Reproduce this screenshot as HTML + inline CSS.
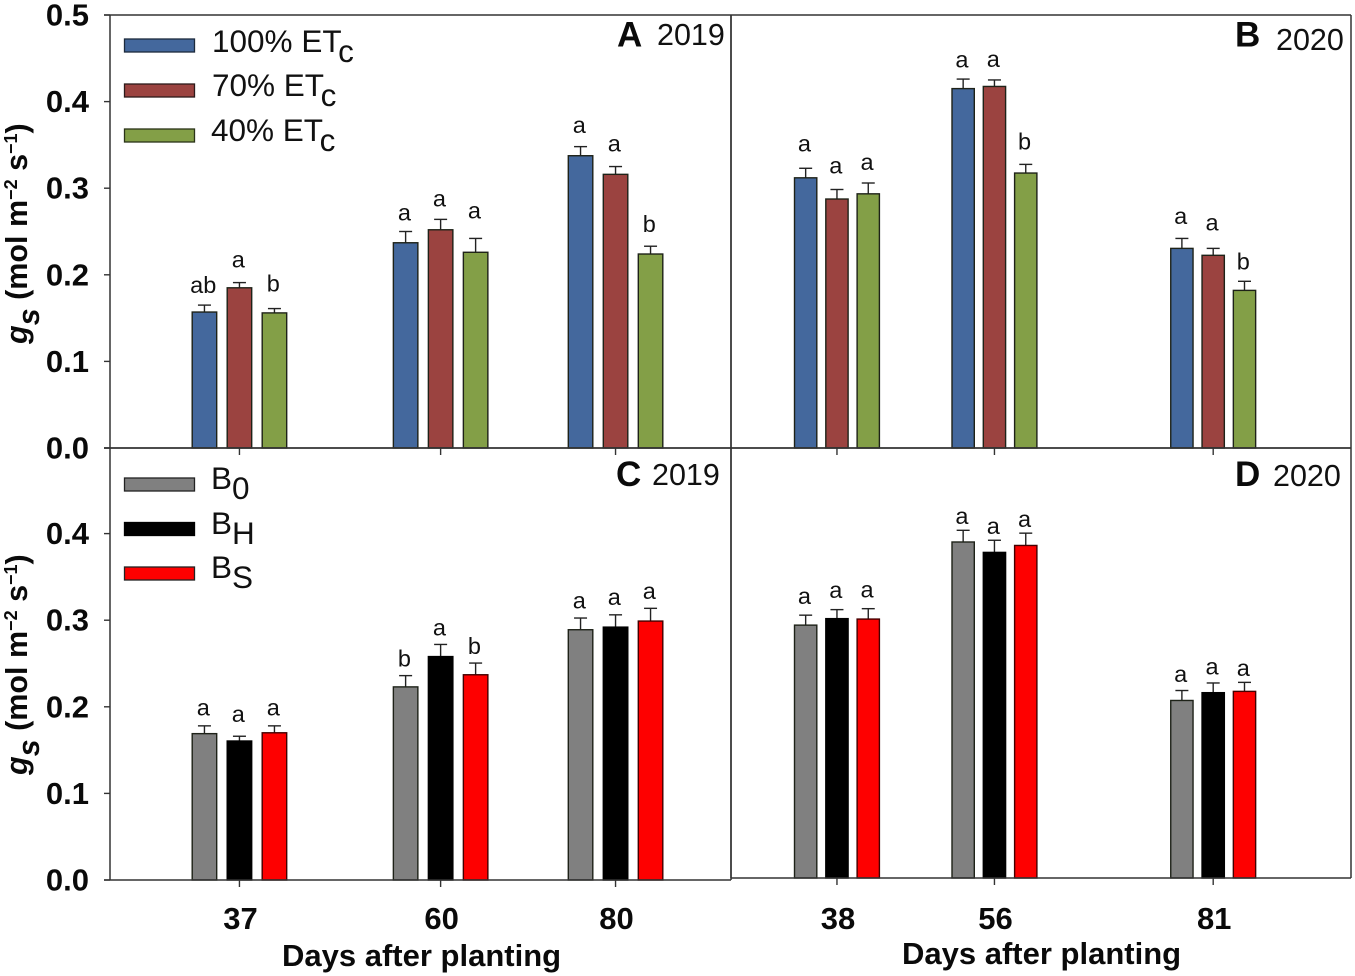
<!DOCTYPE html>
<html lang="en">
<head>
<meta charset="utf-8">
<title>Stomatal conductance bar charts</title>
<style>
  html, body { margin: 0; padding: 0; background: #fff; }
  svg { display: block; font-family: "Liberation Sans", Arial, sans-serif; }
  .tick-label { font-size: 31px; font-weight: bold; fill: #0a0a0a; }
  .axis-title { font-size: 31px; font-weight: bold; fill: #0a0a0a; }
  .y-title { font-size: 30.5px; font-weight: bold; fill: #0a0a0a; }
  .legend-text { font-size: 31.5px; fill: #111; }
  .panel-letter { font-size: 35px; font-weight: bold; fill: #0a0a0a; }
  .panel-year { font-size: 30.5px; fill: #111; }
  .sig-letter { font-size: 23.5px; fill: #111; text-anchor: middle; }
</style>
</head>
<body>
<svg id="chart" xmlns="http://www.w3.org/2000/svg" width="1355" height="976" viewBox="0 0 1355 976">
  <rect x="0" y="0" width="1355" height="976" fill="#fff"/>
  <g id="marks"></g>

  <g>
    <g>
      <rect x="124.5" y="39" width="70" height="13" fill="#44689d" stroke="#1c2a3c" stroke-width="1.3"/>
      <text class="legend-text" x="212" y="52">100% ET<tspan dy="10">c</tspan></text>
    </g>
    <g>
      <rect x="124.5" y="84" width="70" height="13" fill="#9b4340" stroke="#2c1a1a" stroke-width="1.3"/>
      <text class="legend-text" x="212" y="96">70% ET<tspan dy="10">c</tspan></text>
    </g>
    <g>
      <rect x="124.5" y="129" width="70" height="13" fill="#839f47" stroke="#2a3318" stroke-width="1.3"/>
      <text class="legend-text" x="211" y="141">40% ET<tspan dy="10">c</tspan></text>
    </g>
  </g>

  <g>
    <g>
      <rect x="124.5" y="478" width="70" height="13" fill="#808080" stroke="#222" stroke-width="1.3"/>
      <text class="legend-text" x="211" y="489">B<tspan dy="10">0</tspan></text>
    </g>
    <g>
      <rect x="124.5" y="522.5" width="70" height="13" fill="#000" stroke="#000" stroke-width="1.3"/>
      <text class="legend-text" x="211" y="534">B<tspan dy="10">H</tspan></text>
    </g>
    <g>
      <rect x="124.5" y="567" width="70" height="13" fill="#fe0000" stroke="#222" stroke-width="1.3"/>
      <text class="legend-text" x="211" y="578">B<tspan dy="10">S</tspan></text>
    </g>
  </g>

  <text class="panel-letter" x="617" y="46.5">A</text>
  <text class="panel-year" x="657" y="45">2019</text>
  <text class="panel-letter" x="1235" y="46.5">B</text>
  <text class="panel-year" x="1276" y="50">2020</text>
  <text class="panel-letter" x="616" y="486">C</text>
  <text class="panel-year" x="652" y="485">2019</text>
  <text class="panel-letter" x="1235" y="486">D</text>
  <text class="panel-year" x="1273" y="486">2020</text>

  <text class="y-title" transform="translate(27,344) rotate(-90)"><tspan font-style="italic">g</tspan><tspan font-style="italic" dy="12">s</tspan><tspan dy="-12"> (mol m</tspan><tspan dy="-10" font-size="18">−2</tspan><tspan dy="10"> s</tspan><tspan dy="-10" font-size="18">−1</tspan><tspan dy="10">)</tspan></text>
  <text class="y-title" transform="translate(27,775) rotate(-90)"><tspan font-style="italic">g</tspan><tspan font-style="italic" dy="12">s</tspan><tspan dy="-12"> (mol m</tspan><tspan dy="-10" font-size="18">−2</tspan><tspan dy="10"> s</tspan><tspan dy="-10" font-size="18">−1</tspan><tspan dy="10">)</tspan></text>
  <text class="axis-title" x="282" y="966">Days after planting</text>
  <text class="axis-title" x="902" y="964">Days after planting</text>
</svg>

<script>
// ---- Data ----
const irrigationSeries = ['100% ETc', '70% ETc', '40% ETc'];
const biocharSeries = ['B0', 'BH', 'BS'];
const irrigationColors = ['#44689d', '#9b4340', '#839f47'];
const biocharColors = ['#808080', '#000000', '#fe0000'];

const daysA = [37, 60, 80];
const daysB = [38, 56, 81];
const daysC = [37, 60, 80];
const daysD = [38, 56, 81];

const valuesA = [[0.157, 0.237, 0.3375], [0.185, 0.252, 0.316], [0.156, 0.226, 0.224]];
const valuesB = [[0.312, 0.415, 0.2305], [0.2875, 0.4175, 0.2225], [0.2935, 0.3175, 0.182]];
const valuesC = [[0.169, 0.223, 0.289], [0.1605, 0.258, 0.292], [0.170, 0.237, 0.299]];
const valuesD = [[0.292, 0.388, 0.205], [0.2995, 0.376, 0.214], [0.299, 0.384, 0.2155]];

const errorsA = [[0.008, 0.013, 0.0105], [0.006, 0.012, 0.009], [0.005, 0.016, 0.009]];
const errorsB = [[0.011, 0.011, 0.0115], [0.011, 0.0075, 0.008], [0.0125, 0.010, 0.0105]];
const errorsC = [[0.009, 0.013, 0.0135], [0.0055, 0.014, 0.0142], [0.008, 0.0135, 0.0147]];
const errorsD = [[0.0115, 0.0135, 0.0115], [0.0104, 0.014, 0.0112], [0.012, 0.0142, 0.0104]];

const lettersA = [['ab', 'a', 'a'], ['a', 'a', 'a'], ['b', 'a', 'b']];
const lettersB = [['a', 'a', 'a'], ['a', 'a', 'a'], ['a', 'b', 'b']];
const lettersC = [['a', 'b', 'a'], ['a', 'a', 'a'], ['a', 'b', 'a']];
const lettersD = [['a', 'a', 'a'], ['a', 'a', 'a'], ['a', 'a', 'a']];

const yTicksTop = [0.0, 0.1, 0.2, 0.3, 0.4, 0.5];
const yTicksBottom = [0.0, 0.1, 0.2, 0.3, 0.4];

// ---- Layout (not data) ----
const PX_PER_UNIT = 866;
const panels = [
  { id: 'a', left: 110, right: 731, top: 15, base: 448, xMin: 22.2, xMax: 93.2, barW: 24.5, step: 35,
    days: daysA, values: valuesA, errors: errorsA, letters: lettersA, names: irrigationSeries, colors: irrigationColors,
    yTicks: yTicksTop, yAxis: true, dayLabels: false, labelGap: [[12, 11, 13.7], [15, 13, 15], [17, 20, 14]] },
  { id: 'b', left: 731, right: 1351, top: 15, base: 448, xMin: 25.89, xMax: 96.75, barW: 22.3, step: 31.3,
    days: daysB, values: valuesB, errors: errorsB, letters: lettersB, names: irrigationSeries, colors: irrigationColors,
    yTicks: [], yAxis: false, dayLabels: false, labelGap: [[16.6, 11.7, 14.3], [16, 13, 18], [13, 14.7, 12]] },
  { id: 'c', left: 110, right: 731, top: 448, base: 880, xMin: 22.2, xMax: 93.2, barW: 24.5, step: 35,
    days: daysC, values: valuesC, errors: errorsC, letters: lettersC, names: biocharSeries, colors: biocharColors,
    yTicks: yTicksBottom, yAxis: true, dayLabels: true, labelGap: [[10.3, 9.3, 9.3], [14, 8.7, 9.7], [10.3, 9, 9.3]] },
  { id: 'd', left: 731, right: 1351, top: 448, base: 878, xMin: 25.89, xMax: 96.75, barW: 22.3, step: 31.3,
    days: daysD, values: valuesD, errors: errorsD, letters: lettersD, names: biocharSeries, colors: biocharColors,
    yTicks: [], yAxis: false, dayLabels: true, labelGap: [[11.4, 6.3, 8.6], [11.6, 6.4, 8.7], [11.4, 6.3, 6.6]] }
];
const AXIS = '#333';
const SVGNS = 'http://www.w3.org/2000/svg';
const root = document.getElementById('marks');

function mk(tag, attrs, parent) {
  const n = document.createElementNS(SVGNS, tag);
  for (const k in attrs) n.setAttribute(k, attrs[k]);
  parent.appendChild(n);
  return n;
}
function edge(color) {
  return color === '#000000' ? '#000' : (color === '#fe0000' ? '#400' : '#1e2218');
}

panels.forEach(function (p) {
  const xScale = function (d) { return p.left + (d - p.xMin) / (p.xMax - p.xMin) * (p.right - p.left); };
  const yScale = function (v) { return p.base - v * PX_PER_UNIT; };

  const g = mk('g', {}, root);
  
  

  // Bars, error bars, significance letters
  p.names.forEach(function (name, s) {
    p.days.forEach(function (day, i) {
      const cx = xScale(day) + (s - 1) * p.step;
      const v = p.values[s][i];
      const e = p.errors[s][i];
      const yTop = yScale(v);
      const yErr = yScale(v + e);

      const stem = mk('line', { x1: cx, x2: cx, y1: yTop, y2: yErr, stroke: '#222', 'stroke-width': 1.4 }, g);
      
      

      const cap = mk('line', { x1: cx - 6.5, x2: cx + 6.5, y1: yErr, y2: yErr, stroke: '#222', 'stroke-width': 1.4 }, g);
      
      

      const bar = mk('rect', { x: cx - p.barW / 2, y: yTop, width: p.barW, height: p.base - yTop,
        fill: p.colors[s], stroke: edge(p.colors[s]), 'stroke-width': 1.4 }, g);
      
      

      const lab = mk('text', { x: cx - 1.2, y: yErr - p.labelGap[s][i], class: 'sig-letter' }, g);
      lab.textContent = p.letters[s][i];
      
      
    });
  });

  // Frame
  const bottom = mk('line', { x1: p.yAxis ? p.left - 6 : p.left, x2: p.right, y1: p.base, y2: p.base, stroke: AXIS, 'stroke-width': 1.5 }, g);
  
  

  const leftLine = mk('line', { x1: p.left, x2: p.left, y1: p.top, y2: p.base, stroke: AXIS, 'stroke-width': 1.5 }, g);
  
  

  const rightLine = mk('line', { x1: p.right, x2: p.right, y1: p.top, y2: p.base, stroke: AXIS, 'stroke-width': 1.5 }, g);
  
  

  const topLine = mk('line', { x1: p.yAxis ? p.left - 6 : p.left, x2: p.right, y1: p.top, y2: p.top, stroke: AXIS, 'stroke-width': 1.5 }, g);
  
  

  // X ticks
  p.days.forEach(function (day) {
    const tick = mk('line', { x1: xScale(day), x2: xScale(day), y1: p.base, y2: p.base + 7, stroke: AXIS, 'stroke-width': 1.4 }, g);
    
    
    if (p.dayLabels) {
      const t = mk('text', { x: xScale(day) + 1, y: 929, class: 'tick-label', 'text-anchor': 'middle' }, g);
      t.textContent = String(day);
      
      
    }
  });

  // Y ticks
  p.yTicks.forEach(function (v) {
    const tick = mk('line', { x1: p.left - 6, x2: p.left, y1: yScale(v), y2: yScale(v), stroke: AXIS, 'stroke-width': 1.4 }, g);
    
    
    const t = mk('text', { x: 89, y: yScale(v) + 10.5, class: 'tick-label', 'text-anchor': 'end' }, g);
    t.textContent = v.toFixed(1);
    
    
  });
});
</script>
</body>
</html>
